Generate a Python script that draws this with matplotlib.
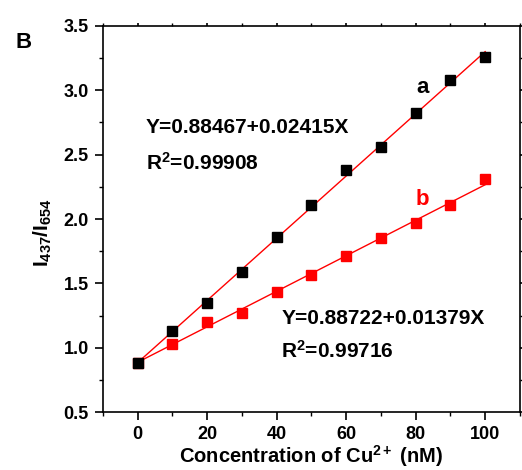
import matplotlib
matplotlib.use("Agg")
import matplotlib.pyplot as plt
from matplotlib.ticker import MultipleLocator, FormatStrFormatter
import numpy as np

plt.rcParams['font.family'] = ['Liberation Sans', 'DejaVu Sans']
plt.rcParams['font.weight'] = 'bold'
plt.rcParams['axes.labelweight'] = 'bold'
plt.rcParams['mathtext.fontset'] = 'custom'
plt.rcParams['mathtext.rm'] = 'Liberation Sans:bold'
plt.rcParams['mathtext.it'] = 'Liberation Sans:bold'
plt.rcParams['mathtext.bf'] = 'Liberation Sans:bold'
plt.rcParams['mathtext.default'] = 'rm'

# data
conc = [0, 10, 20, 30, 40, 50, 60, 70, 80, 90, 100]
ratio_a = [0.88, 1.13, 1.35, 1.59, 1.86, 2.11, 2.38, 2.56, 2.82, 3.08, 3.26]
ratio_b = [0.88, 1.03, 1.20, 1.27, 1.43, 1.565, 1.71, 1.85, 1.97, 2.11, 2.31]
fit_a = (0.88467, 0.02415)
fit_b = (0.88722, 0.01379)
eq_a = ["Y=0.88467+0.02415X", "R$^2$=0.99908"]
eq_b = ["Y=0.88722+0.01379X", "R$^2$=0.99716"]

fig = plt.figure(figsize=(5.22, 4.70), dpi=100)
ax = fig.add_axes([0.197, 0.123, 0.799, 0.822])

xs = np.array([0, 100])
ax.plot(xs, fit_a[0] + fit_a[1] * xs, color='red', lw=1.0, zorder=2)
ax.plot(xs, fit_b[0] + fit_b[1] * xs, color='red', lw=1.0, zorder=2)
ax.plot(conc, ratio_b, 's', color='red', ms=7.5, zorder=3)
ax.plot(conc, ratio_a, 's', color='black', ms=7.5, zorder=4)

ax.set_xlim(-10, 110)
ax.set_ylim(0.5, 3.5)
ax.xaxis.set_major_locator(MultipleLocator(20))
ax.xaxis.set_minor_locator(MultipleLocator(10))
ax.yaxis.set_major_locator(MultipleLocator(0.5))
ax.yaxis.set_minor_locator(MultipleLocator(0.25))
ax.yaxis.set_major_formatter(FormatStrFormatter('%.1f'))

for s in ax.spines.values():
    s.set_linewidth(1.2)
ax.tick_params(which='major', direction='out', length=6, width=1.2, labelsize=13, pad=4)
ax.tick_params(which='minor', direction='out', length=3, width=1.0)
ax.tick_params(which='both', top=True, right=True, labeltop=False, labelright=False)
# mirrored ticks drawn short
for t in ax.xaxis.get_major_ticks() + ax.xaxis.get_minor_ticks():
    t.tick2line.set_markersize(2)
for t in ax.yaxis.get_major_ticks() + ax.yaxis.get_minor_ticks():
    t.tick2line.set_markersize(2)

ax.set_xlabel("Concentration of Cu$^{2+}$ (nM)", fontsize=14.5, labelpad=0)
ax.set_ylabel("I$_{437}$/I$_{654}$", fontsize=15)
ax.yaxis.set_label_coords(-0.118, 0.464)

ax.text(2.3, 2.71, eq_a[0], fontsize=15, va='center', ha='left')
ax.text(2.3, 2.44, eq_a[1], fontsize=15, va='center', ha='left')
ax.text(41.4, 1.23, eq_b[0], fontsize=15, va='center', ha='left')
ax.text(41.4, 0.98, eq_b[1], fontsize=15, va='center', ha='left')
ax.text(80.3, 3.02, "a", fontsize=16, va='center', ha='left')
ax.text(80.0, 2.15, "b", fontsize=16, va='center', ha='left', color='red')

fig.text(0.029, 0.91, "B", fontsize=16, fontweight='bold', va='center')

fig.savefig("out.png", dpi=100)
